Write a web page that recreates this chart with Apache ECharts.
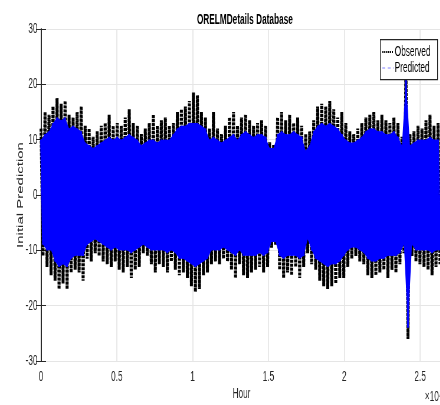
<!DOCTYPE html>
<html>
<head>
<meta charset="utf-8">
<script src="https://cdn.jsdelivr.net/npm/echarts@6/dist/echarts.min.js"></script>
<style>
html,body{margin:0;padding:0;background:#fff;overflow:hidden;}
#wrap{width:440px;height:405px;overflow:hidden;position:relative;}
#chart{width:746px;height:405px;transform:scaleX(0.59);transform-origin:0 0;position:absolute;left:0;top:0;}
</style>
</head>
<body>
<div id="wrap"><div id="chart"></div></div>
<script>
// Envelope of the dense hourly signal (one sample per ~264 hours)
const obsHigh = [12,15,14.5,16,17.5,16.5,17,14.5,14,15,16,12.5,12,10.5,11.5,12.5,13,14.5,12.5,13,12.5,14,15.5,13,12.5,
  11,12,13,14.5,12.5,13.5,14,12.5,13,15,15.5,16,17,18.5,18,15,14,12,15,12,11,12.5,14,15,12.5,
  14,14.5,13.5,12.5,13,13.5,12.5,9.5,9,14,15,13.5,14.5,13,14,12.5,11,11.5,13.5,16,16.5,16,17,15.5,14,
  15,13,11.5,11,12,13,14,14.5,15,13.5,14.5,13.5,13,14,13,10.5,23,11,11.5,12.5,12,13.5,14.5,12.5,13];
const obsLow = [-11,-13,-14.5,-15.5,-17,-16,-17,-14,-13.5,-14,-15.5,-11.5,-12,-10.5,-11,-12,-12.5,-13,-12,-13.5,-14,-13,-15,-13.5,-13,
  -10.5,-11,-12.5,-14,-12.5,-13,-14,-12,-13.5,-14.5,-14,-15,-16.5,-17.5,-17,-14.5,-14,-12.5,-12,-12.5,-11.5,-12,-13.5,-15,-12.5,
  -14.5,-15,-14,-13.5,-13,-14,-13,-9.5,-9,-13.5,-15,-14,-14.5,-13,-15,-13,-10.5,-12.5,-13.5,-15.5,-16.5,-17,-16.5,-16,-15,
  -15,-13,-11.5,-11,-12,-12.5,-14.5,-15,-14.5,-14,-13.5,-15,-13.5,-14,-12.5,-10.5,-26,-11,-12,-12.5,-13,-13.5,-14.5,-13,-12.5];
const predHigh = [10,11,11.5,13,14,13.5,14,12,12.5,12,11.5,9.5,9,8.5,9,9.5,10,10.5,10,10.5,10,10.5,11,10.5,10,
  9,9.5,10,10,9.5,10,10,10,11,12,12.5,12.5,13,13,13,12.5,12,10,10.5,10,9.5,10,10.5,11,10,
  11,11.5,11,10.5,11,11,10.5,8.5,8.5,11,11.5,11,11,11.5,11,10.5,8,9,11.5,12.5,13,12.5,13,12.5,12,
  11,10,9.5,9.5,10,10.5,11.5,12,12,11.5,11.5,11,11,11.5,10.5,9,21,9,9.5,10,10,10,10.5,10,10];
const predLow = [-9,-10,-10,-12,-13,-12.5,-13,-11.5,-11,-11,-11,-9,-8.5,-8,-8.5,-9,-9.5,-10,-9.5,-10,-10,-10,-10.5,-10,-9.5,
  -9,-9.5,-10,-10,-10,-10,-10.5,-10,-10.5,-11.5,-11.5,-12,-12.5,-13,-12.5,-12,-11.5,-10,-10,-10,-9.5,-10,-10.5,-11,-10,
  -11,-11,-11,-11,-10.5,-11,-10.5,-8.5,-8.5,-11,-11.5,-11,-11,-11,-11.5,-11,-8,-10,-11.5,-12,-12.5,-13,-12.5,-12.5,-12,
  -11,-10,-9.5,-9.5,-10,-10.5,-11.5,-12,-12,-11.5,-11.5,-11,-11,-11,-10.5,-9,-24,-9,-10,-10,-10,-10,-10.5,-10,-10];
const xTickLabels = ['0','0.5','1','1.5','2','2.5'];
const yTickLabels = ['-30','-20','-10','0','10','20','30'];
const totalHours = 26450;
const tickStep = 5000;
const sampleStep = totalHours / obsHigh.length;

function zigzag(hi, lo) {
  const out = [];
  for (let i = 0; i < hi.length; i++) {
    out.push([i * sampleStep, hi[i]]);
    out.push([i * sampleStep + sampleStep / 2, lo[i]]);
  }
  return out;
}
function envelope(vals, offset) {
  return vals.map(function (v, i) { return [i * sampleStep + offset, v]; });
}

const FONT = "'Liberation Sans',Arial,Helvetica,sans-serif";
const axisCol = '#262626';
const gridCol = '#e5e5e5';
const chart = echarts.init(document.getElementById('chart'), null, {renderer: 'canvas'});
const xBase = {
  type: 'value', min: 0, max: totalHours, interval: tickStep,
  axisLine: {show: true, lineStyle: {color: axisCol, width: 1}},
  axisTick: {show: true, inside: true, length: 8, lineStyle: {color: axisCol, width: 1.7}},
  splitLine: {show: false}
};
const yBase = {
  type: 'value', min: -30, max: 30, interval: 10,
  axisLine: {show: true, lineStyle: {color: axisCol, width: 1.7}},
  axisTick: {show: true, inside: true, length: 8.5, lineStyle: {color: axisCol, width: 1}},
  splitLine: {show: false}
};
const bandLine = {width: 0, opacity: 0};
chart.setOption({
  animation: false,
  backgroundColor: '#fff',
  title: {
    text: 'ORELMDetails Database', left: 410, top: 8, textAlign: 'center',
    textStyle: {fontFamily: FONT, fontWeight: 'bold', fontSize: 14, color: '#000'}
  },
  grid: {left: 69.5, right: -3.2, top: 29, bottom: 44, outerBoundsMode: 'none', containLabel: false},
  xAxis: [
    Object.assign({}, xBase, {
      position: 'bottom', name: 'Hour', nameLocation: 'middle', nameGap: 26, nameMoveOverlap: false,
      nameTextStyle: {fontFamily: FONT, fontSize: 14, color: axisCol},
      axisLabel: {fontFamily: FONT, fontSize: 14, color: axisCol, margin: 9, showMaxLabel: false,
        formatter: function (v) { return v % tickStep === 0 ? xTickLabels[v / tickStep] : ''; }},
      splitLine: {show: true, lineStyle: {color: gridCol, width: 1.7}}
    }),
    Object.assign({}, xBase, {position: 'top', axisLabel: {show: false}})
  ],
  yAxis: [
    Object.assign({}, yBase, {
      position: 'left', name: 'Initial Prediction', nameLocation: 'middle', nameGap: 27, nameMoveOverlap: false,
      nameTextStyle: {fontFamily: FONT, fontSize: 15, color: axisCol},
      axisLabel: {fontFamily: FONT, fontSize: 14, color: axisCol, margin: 6,
        formatter: function (v) { return yTickLabels[(v + 30) / 10]; }},
      splitLine: {show: true, lineStyle: {color: gridCol, width: 1}}
    }),
    Object.assign({}, yBase, {position: 'right', axisLabel: {show: false}})
  ],
  graphic: [
    {type: 'text', left: 720, top: 390, z: 10,
     style: {text: '×10⁴', font: '14px ' + FONT, fill: axisCol}},
    {type: 'rect', left: 644, top: 39, z: 100, shape: {x: 0, y: 0, width: 97, height: 40},
     style: {fill: '#fff', stroke: '#262626', lineWidth: 1.2}},
    {type: 'line', z: 101, shape: {x1: 648, y1: 52, x2: 667, y2: 52},
     style: {stroke: '#000', lineWidth: 2.2, lineDash: [2, 1.2]}},
    {type: 'text', z: 101, x: 669, y: 52,
     style: {text: 'Observed', font: '14px ' + FONT, fill: '#000', verticalAlign: 'middle'}},
    {type: 'line', z: 101, shape: {x1: 648, y1: 68, x2: 667, y2: 68},
     style: {stroke: '#8080ff', lineWidth: 1, lineDash: [5, 4]}},
    {type: 'text', z: 101, x: 669, y: 68,
     style: {text: 'Predicted', font: '14px ' + FONT, fill: '#000', verticalAlign: 'middle'}}
  ],
  series: [
    {name: 'Observed', type: 'line', data: zigzag(obsHigh, obsLow), showSymbol: false, symbol: 'none',
     lineStyle: {color: '#000', width: 5, type: [3, 1]}, z: 2, silent: true},
    {name: 'Predicted upper', type: 'line', data: envelope(predHigh, 0), showSymbol: false, symbol: 'none',
     lineStyle: bandLine, areaStyle: {color: '#0000ff', opacity: 1, origin: 'auto'}, z: 3, silent: true},
    {name: 'Predicted lower', type: 'line', data: envelope(predLow, sampleStep / 2), showSymbol: false, symbol: 'none',
     lineStyle: bandLine, areaStyle: {color: '#0000ff', opacity: 1, origin: 'auto'}, z: 3, silent: true},
    {name: 'Predicted', type: 'line', data: zigzag(predHigh, predLow), showSymbol: false, symbol: 'none',
     lineStyle: {color: '#0000ff', width: 3, type: 'solid'}, z: 4, silent: true}
  ]
});
</script>
</body>
</html>
